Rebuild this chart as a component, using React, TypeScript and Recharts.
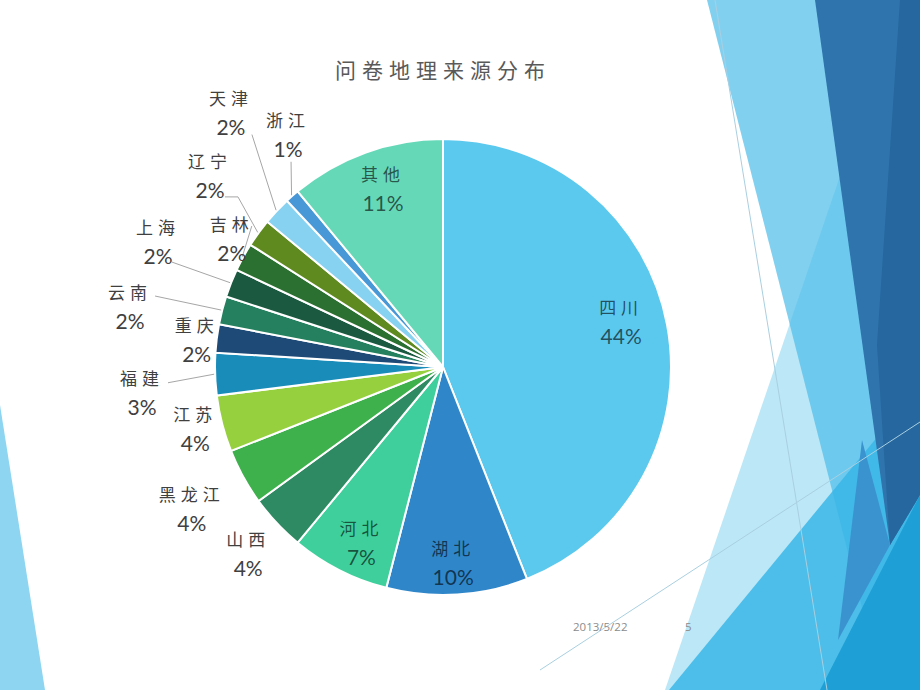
import React from 'react';
import { PieChart, Pie, Cell } from 'recharts';

const provinces = ['四川', '湖北', '河北', '山西', '黑龙江', '江苏', '福建', '重庆', '云南', '上海', '吉林', '辽宁', '天津', '浙江', '其他'];
const shares = [44, 10, 7, 4, 4, 4, 3, 2, 2, 2, 2, 2, 2, 1, 11];
const sliceColors = ['#5bc8ee', '#2f86c9', '#3ecf9c', '#2d8a62', '#3eb04c', '#96d03f', '#1a8cba', '#1e4a78', '#258060', '#1b5a40', '#2b7030', '#5f8a20', '#88d2f1', '#4898d8', '#65d8b8'];

const chartTitle = '问卷地理来源分布';
const footerDate = '2013/5/22';
const footerPage = '5';

// label placement: distance from centre, angle shift (deg), optional leader anchor relative to label centre
type Place = { dist: number; shift: number; inside?: boolean; anchor?: [number, number]; elbow?: number };
const placement: Record<string, Place> = {
    '四川': { dist: 184, shift: -3.7, inside: true },
    '湖北': { dist: 195, shift: 0.6, inside: true },
    '河北': { dist: 193, shift: -2, inside: true },
    '其他': { dist: 189, shift: 1.3, inside: true },
    '山西': { dist: 269, shift: -0.4 },
    '黑龙江': { dist: 288, shift: -0.5 },
    '江苏': { dist: 255, shift: 0.6 },
    '福建': { dist: 302, shift: -2.9, anchor: [26, -9] },
    '重庆': { dist: 248, shift: -0.5 },
    '云南': { dist: 319, shift: -3.2, anchor: [25, -9] },
    '上海': { dist: 312, shift: 2.4, anchor: [14, 22] },
    '吉林': { dist: 248, shift: 2.8, anchor: [20, -11] },
    '辽宁': { dist: 302, shift: 3.5, anchor: [15, 22], elbow: 13 },
    '天津': { dist: 332, shift: 7.1, anchor: [21, 23] },
    '浙江': { dist: 280, shift: 7.8, anchor: [3, 28] },
};

const data = provinces.map((name, i) => ({ name, value: shares[i] }));

const nameFont = '"Noto Sans CJK SC", sans-serif';
const numFont = 'Lato, "Open Sans", sans-serif';

const renderLabel = (props: any) => {
    const { cx, cy, midAngle, outerRadius, index, value } = props;
    const name = provinces[index];
    const p = placement[name];
    const theta = ((90 - midAngle + p.shift) * Math.PI) / 180;
    const x = cx + p.dist * Math.sin(theta);
    const y = cy - p.dist * Math.cos(theta);
    const textFill = p.inside ? '#000' : '#404040';
    const textOpacity = p.inside ? 0.62 : 1;

    let line = null;
    if (p.anchor) {
        const t0 = ((90 - midAngle) * Math.PI) / 180;
        const ex = cx + (outerRadius + 1) * Math.sin(t0);
        const ey = cy - (outerRadius + 1) * Math.cos(t0);
        const ax = x + p.anchor[0];
        const ay = y + p.anchor[1];
        const pts = p.elbow ? `${ax},${ay} ${ax + p.elbow},${ay} ${ex},${ey}` : `${ax},${ay} ${ex},${ey}`;
        line = <polyline points={pts} fill="none" stroke="#a6a6a6" strokeWidth={1} />;
    }

    return (
        <g key={`lbl-${index}`}>
            {line}
            <text x={x} y={y - 14} textAnchor="middle" dominantBaseline="central" fontFamily={nameFont} fontSize={17} letterSpacing={5} fill={textFill} fillOpacity={textOpacity}>
                {name}
            </text>
            <text x={x} y={y + 15} textAnchor="middle" dominantBaseline="central" fontFamily={numFont} fontSize={21} fill={textFill} fillOpacity={textOpacity}>
                {`${Math.round(value)}%`}
            </text>
        </g>
    );
};

const Backdrop = () => (
    <svg width={920} height={690} style={{ position: 'absolute', left: 0, top: 0 }}>
        <polygon points="0,405 0,690 45,690" fill="#8dd5f1" />
        <polygon points="707,0 920,0 920,690 883,690" fill="#82d0f0" />
        <polygon points="665,690 900,0 920,0 920,690" fill="#4cc0ea" fillOpacity={0.38} />
        <polygon points="669,690 920,385 920,690" fill="#3ab6e6" fillOpacity={0.85} />
        <polygon points="815,0 920,0 920,495 890,545" fill="#2f74ad" />
        <polygon points="900,0 920,0 920,495 890,545 877,345" fill="#25679e" />
        <polygon points="862,440 890,545 838,640" fill="#3a93cf" />
        <polygon points="920,495 820,690 920,690" fill="#1e9fd6" />
        <line x1={715} y1={0} x2={827} y2={690} stroke="#a9cfe0" strokeWidth={1} />
        <line x1={540} y1={670} x2={920} y2={422} stroke="#a9cfe0" strokeWidth={1} />
    </svg>
);

export default function App() {
    return (
        <div style={{ position: 'absolute', left: 0, top: 0, width: 920, height: 690, background: '#fff', overflow: 'hidden' }}>
            <Backdrop />
            <div style={{ position: 'absolute', left: 0, top: 54, width: 886, textAlign: 'center', fontFamily: nameFont, fontSize: 21, letterSpacing: 6, color: '#595959' }}>
                {chartTitle}
            </div>
            <div style={{ position: 'absolute', left: 0, top: 0 }}>
                <PieChart width={920} height={690}>
                    <Pie
                        data={data}
                        dataKey="value"
                        nameKey="name"
                        cx={438}
                        cy={362}
                        outerRadius={228}
                        startAngle={90}
                        endAngle={-270}
                        stroke="#ffffff"
                        strokeWidth={2}
                        label={renderLabel}
                        labelLine={false}
                        isAnimationActive={false}
                    >
                        {data.map((entry, index) => (
                            <Cell key={`cell-${index}`} fill={sliceColors[index]} />
                        ))}
                    </Pie>
                </PieChart>
            </div>
            <div style={{ position: 'absolute', left: 573, top: 619, fontFamily: '"Open Sans", sans-serif', fontSize: 11.5, color: '#8c8c8c' }}>
                {footerDate}
            </div>
            <div style={{ position: 'absolute', left: 685, top: 619, fontFamily: '"Open Sans", sans-serif', fontSize: 11.5, color: '#8c8c8c' }}>
                {footerPage}
            </div>
        </div>
    );
}
